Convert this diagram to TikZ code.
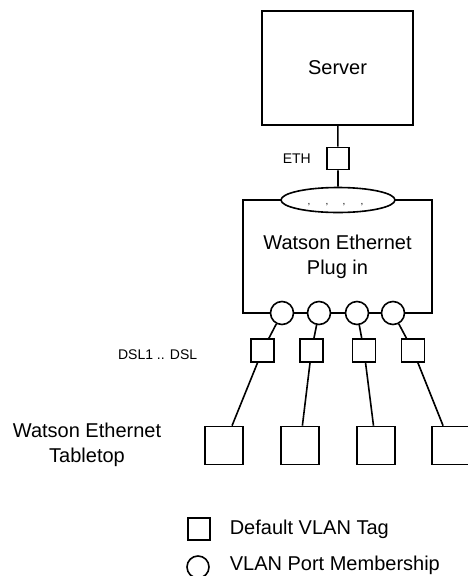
\documentclass[tikz,border=0pt]{standalone}
\usepackage{fontspec}
\setmainfont{Liberation Sans}
\usetikzlibrary{shapes.geometric}

\tikzset{
  box/.style={draw, line width=1.6pt, inner sep=0pt, fill=white},
  tagbox/.style={box, minimum width=22pt, minimum height=22pt},
  portcirc/.style={draw, circle, line width=1.6pt, inner sep=0pt, minimum size=23pt, fill=white},
  bigtxt/.style={font=\fontsize{20}{25}\selectfont, align=center},
  smalltxt/.style={font=\fontsize{14}{17}\selectfont, inner sep=0pt},
}

\begin{document}
\begin{tikzpicture}[x=1pt, y=-1pt, line width=1.6pt]
\useasboundingbox (0,0) rectangle (468,576);

% server and uplink
\node[box, minimum width=151pt, minimum height=114pt, bigtxt] (server) at (337.5,68) {Server};
\node[tagbox] (eth) at (338,158.5) {};
\node[smalltxt, anchor=west] (ethlbl) at (282,159) {ETH};

% plug-in
\node[box, minimum width=189pt, minimum height=113pt, bigtxt] (plugin) at (337.5,256.5) {Watson Ethernet\\Plug in};
\node[draw, ellipse, fill=white, inner sep=0pt, minimum width=114pt, minimum height=25pt] (vlan) at (338,200) {};
\foreach \x [count=\i] in {309,327,344,362}
  \node[font=\fontsize{10}{10}\selectfont, inner sep=0pt] (mark\i) at (\x,205) {,};

\draw (server) -- (eth) -- (vlan);

% ports, tags and tabletops
\foreach \x [count=\i] in {282,319,357,393}
  \node[portcirc] (port\i) at (\x,313) {};
\foreach \x [count=\i] in {262.5,311.5,364,413}
  \node[tagbox, minimum width=23pt, minimum height=23pt] (dsl\i) at (\x,350.5) {};
\foreach \x [count=\i] in {224,300,376,451}
  \node[box, minimum width=38pt, minimum height=38pt] (table\i) at (\x,445.5) {};
\foreach \i in {1,...,4}
  \draw (port\i) -- (dsl\i) -- (table\i);

\node[smalltxt, anchor=east] (dsllbl) at (198,355) {DSL1 .. DSL};
\node[bigtxt] (tablelbl) at (87,444.5) {Watson Ethernet\\Tabletop};

% legend
\node[tagbox] (keytag) at (199,529) {};
\node[bigtxt, anchor=west, inner sep=0pt] (keytaglbl) at (229,529) {Default VLAN Tag};
\node[portcirc, minimum size=22pt] (keyport) at (198,567) {};
\node[bigtxt, anchor=west, inner sep=0pt] (keyportlbl) at (229,565) {VLAN Port Membership};
\end{tikzpicture}
\end{document}
